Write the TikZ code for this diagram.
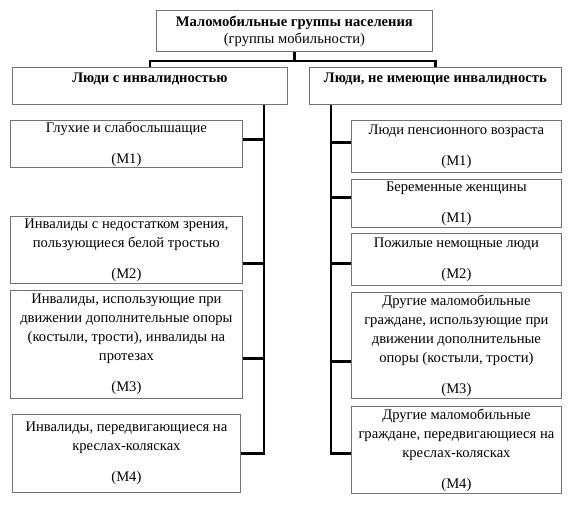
\documentclass[tikz,border=0pt]{standalone}
\usepackage{fontspec}
\setmainfont{Liberation Serif}
\begin{document}
\begin{tikzpicture}[x=1pt,y=-1pt,
  box/.style={draw=black!55, line width=0.8pt, anchor=north west, inner sep=0pt,
    align=center, font=\fontsize{14.6}{19}\selectfont},
  conn/.style={line width=2.6pt, black}]
\useasboundingbox (0,0) rectangle (570,504);
% top
\node[box, minimum width=276pt, minimum height=41pt] (top) at (156,10)
  {\textbf{Маломобильные группы населения}\\[-2pt](группы мобильности)};
\node[box, minimum width=275pt, minimum height=37pt] (lh) at (12,67)
  {\textbf{Люди с инвалидностью}\\[-8pt]\strut};
\node[box, minimum width=252pt, minimum height=37pt] (rh) at (309,67)
  {\textbf{Люди, не имеющие инвалидность}\\[-8pt]\strut};
% left column
\node[box, minimum width=232pt, minimum height=47pt] (L1) at (10,120)
  {Глухие и слабослышащие\\[12pt](М1)};
\node[box, minimum width=232pt, minimum height=67pt] (L2) at (10,216)
  {Инвалиды с недостатком зрения,\\пользующиеся белой тростью\\[12pt](М2)};
\node[box, minimum width=232pt, minimum height=108pt] (L3) at (10,290)
  {Инвалиды, использующие при\\движении дополнительные опоры\\(костыли, трости), инвалиды на\\протезах\\[12pt](М3)};
\node[box, minimum width=228pt, minimum height=78pt] (L4) at (12,414)
  {Инвалиды, передвигающиеся на\\креслах-колясках\\[12pt](М4)};
% right column
\node[box, minimum width=210pt, minimum height=52pt] (R1) at (351,120)
  {Люди пенсионного возраста\\[12pt](М1)};
\node[box, minimum width=210pt, minimum height=48pt] (R2) at (351,179)
  {Беременные женщины\\[12pt](М1)};
\node[box, minimum width=210pt, minimum height=52pt] (R3) at (351,233)
  {Пожилые немощные люди\\[12pt](М2)};
\node[box, minimum width=210pt, minimum height=106pt] (R4) at (351,292)
  {Другие маломобильные\\граждане, использующие при\\движении дополнительные\\опоры (костыли, трости)\\[12pt](М3)};
\node[box, minimum width=210pt, minimum height=87pt] (R5) at (351,406)
  {Другие маломобильные\\граждане, передвигающиеся на\\креслах-колясках\\[12pt](М4)};
% bus
\draw[conn] (top.south) -- ++(0,9) coordinate (bus) -| (lh.north);
\draw[conn] (bus) -| (rh.north);
% trunks
\path (lh.south east) ++(-24,0) coordinate (lt);
\path (rh.south west) ++(22,0) coordinate (rt);
\coordinate (l1) at ([yshift=4.5pt]L1.east);
\coordinate (l2) at ([yshift=-13.5pt]L2.east);
\coordinate (l3) at ([yshift=-14pt]L3.east);
\coordinate (l4) at (L4.east);
\coordinate (r1) at ([yshift=4pt]R1.west);
\coordinate (r2) at ([yshift=6pt]R2.west);
\coordinate (r3) at ([yshift=-4pt]R3.west);
\coordinate (r4) at ([yshift=-16pt]R4.west);
\coordinate (r5) at ([yshift=-3.5pt]R5.west);
\draw[conn] (lt) |- (l4);
\draw[conn] (l1) -- (l1 -| lt);
\draw[conn] (l2) -- (l2 -| lt);
\draw[conn] (l3) -- (l3 -| lt);
\draw[conn] (rt) |- (r5);
\draw[conn] (r1) -- (r1 -| rt);
\draw[conn] (r2) -- (r2 -| rt);
\draw[conn] (r3) -- (r3 -| rt);
\draw[conn] (r4) -- (r4 -| rt);
\end{tikzpicture}
\end{document}
